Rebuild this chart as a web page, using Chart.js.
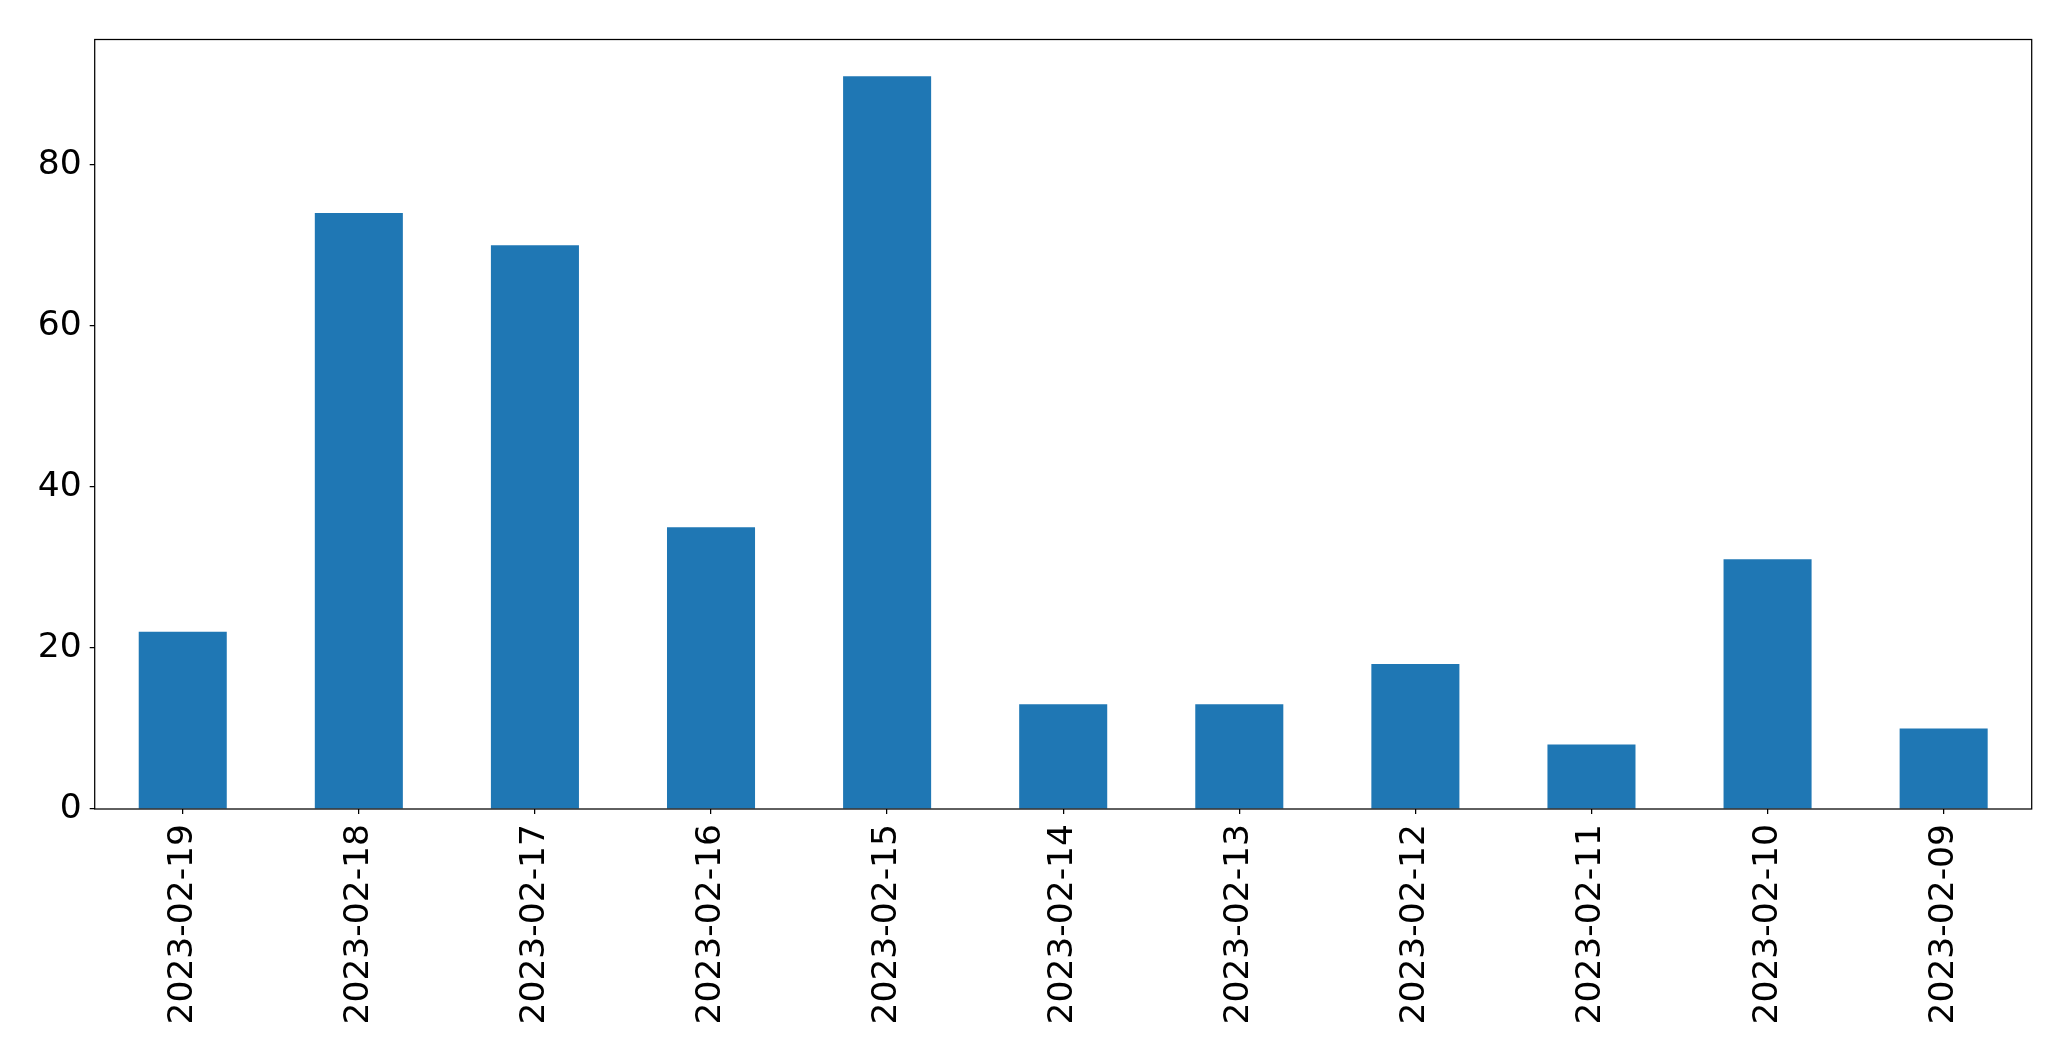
<!DOCTYPE html>
<html>
<head>
<meta charset="utf-8">
<script src="https://cdn.jsdelivr.net/npm/chart.js@4"></script>
<style>
  html, body { margin: 0; padding: 0; background: #fff; }
  #c { display: block; }
</style>
</head>
<body>
<canvas id="c" width="2071" height="1061"></canvas>
<script>
const categories = ["2023-02-19","2023-02-18","2023-02-17","2023-02-16","2023-02-15","2023-02-14","2023-02-13","2023-02-12","2023-02-11","2023-02-10","2023-02-09"];
const values = [22, 74, 70, 35, 91, 13, 13, 18, 8, 31, 10];
const yTicks = [0, 20, 40, 60, 80];

const FONT = { family: "'DejaVu Sans'", size: 34.5 };

const framePlugin = {
  id: 'frame',
  afterDraw(chart) {
    const { ctx, chartArea: a } = chart;
    ctx.save();
    ctx.strokeStyle = '#000';
    ctx.lineWidth = 1.25;
    ctx.strokeRect(a.left, a.top, a.right - a.left, a.bottom - a.top);
    ctx.restore();
  }
};

new Chart(document.getElementById('c'), {
  type: 'bar',
  data: {
    labels: categories,
    datasets: [{
      data: values,
      backgroundColor: '#1f77b4',
      borderWidth: 0,
      barPercentage: 0.5,
      categoryPercentage: 1.0
    }]
  },
  options: {
    responsive: false,
    animation: false,
    devicePixelRatio: 1,
    layout: { padding: { left: 0, top: 39.5, right: 39.3, bottom: 0 } },
    plugins: { legend: { display: false }, tooltip: { enabled: false } },
    scales: {
      x: {
        offset: true,
        grid: { display: true, drawOnChartArea: false, drawTicks: true, tickLength: 5, color: '#000', lineWidth: 1.25, offset: false },
        border: { display: false },
        ticks: { color: '#000', font: FONT, minRotation: 90, maxRotation: 90, padding: 10, autoSkip: false },
        afterFit(scale) { scale.height = 1061 - 809; }
      },
      y: {
        min: 0,
        max: Math.max(...values) * 1.05,
        grid: { display: true, drawOnChartArea: false, drawTicks: true, tickLength: 5, color: '#000', lineWidth: 1.25 },
        border: { display: false },
        ticks: { color: '#000', font: FONT, padding: 8 },
        afterBuildTicks(scale) { scale.ticks = yTicks.map(v => ({ value: v })); },
        afterFit(scale) { scale.width = 94.7; }
      }
    }
  },
  plugins: [framePlugin]
});
</script>
</body>
</html>
